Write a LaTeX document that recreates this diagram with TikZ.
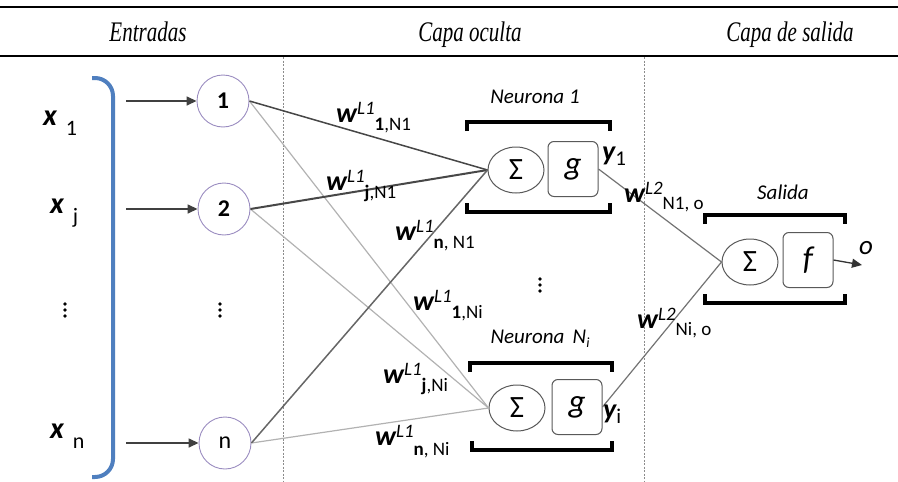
\documentclass[tikz,border=0pt]{standalone}
\usepackage{fontspec}
\setmainfont{Carlito}
\newfontfamily\timesfont{Liberation Serif}
\usetikzlibrary{arrows.meta,shapes.geometric}
\definecolor{circcol}{HTML}{9A8CC0}
\definecolor{brblue}{HTML}{4F7FBF}
\newcommand{\wlab}[3]{{\fontsize{28}{28}\selectfont\bfseries\itshape w}\raisebox{8pt}{\fontsize{19}{19}\selectfont\itshape #1}\raisebox{-#3}{\fontsize{19}{19}\selectfont #2}}
\newcommand{\xlab}[1]{{\fontsize{30}{30}\selectfont\bfseries\itshape x}\hspace{9pt}\raisebox{-10pt}{\fontsize{22}{22}\selectfont #1}}
\newcommand{\vdot}[2]{\fill (#1,#2-6) circle (1.9pt); \fill (#1,#2) circle (1.9pt); \fill (#1,#2+6) circle (1.9pt);}
\begin{document}
\begin{tikzpicture}[x=1pt,y=-1pt,
  inp/.style={circle, draw=circcol, line width=0.9pt, minimum size=52pt, inner sep=0pt, font=\fontsize{24}{24}\selectfont},
  sig/.style={ellipse, draw=black!65, line width=1pt, minimum width=56pt, minimum height=46pt, inner sep=0pt, font=\fontsize{31}{31}\selectfont},
  funbox/.style={rectangle, rounded corners=6pt, draw=black!65, line width=1pt, minimum width=50pt, minimum height=55pt, inner sep=0pt, font=\fontsize{33}{33}\selectfont\itshape},
  brk/.style={line width=4pt, black},
  darkw/.style={draw=black!72, line width=1.5pt},
  lightw/.style={draw=black!30, line width=1.2pt},
  midw/.style={draw=black!55, line width=1.2pt},
  inarrow/.style={draw=black!75, line width=1.5pt, -{Triangle[length=10pt,width=9pt]}},
  lab/.style={inner sep=0pt, anchor=base west},
  head/.style={inner sep=0pt, anchor=base, font=\fontsize{21}{21}\selectfont\timesfont\itshape},
  rule/.style={line width=2pt, black},
  sep/.style={draw=black!45, line width=0.6pt, dash pattern=on 2pt off 1.5pt},
  ttl/.style={inner sep=0pt, font=\fontsize{21}{21}\selectfont\itshape}
]
\useasboundingbox (0,0) rectangle (898,482);
% header rules and titles
\draw[rule] (0,7) -- (898,7);
\draw[rule] (0,56) -- (898,56);
\node[head] (h1) at (148,41) {\scalebox{1}[1.35]{Entradas}};
\node[head] (h2) at (470,41) {\scalebox{1}[1.35]{Capa oculta}};
\node[head] (h3) at (790,41) {\scalebox{1}[1.35]{Capa de salida}};
% separators
\draw[sep] (283,57) -- (283,482);
\draw[sep] (644,57) -- (644,482);
% input bracket
\draw[brblue, line width=4pt, rounded corners=18pt] (92,78) -- (113,78) -- (113,477) -- (92,477);
% input labels
\node[lab] (x1) at (43,125) {\xlab{1}};
\node[lab] (xj) at (50,213) {\xlab{j}};
\node[lab] (xn) at (50,438) {\xlab{n}};
\vdot{65}{310}
\vdot{220}{310}
\vdot{540}{285}
% input neurons
\node[inp, font=\fontsize{24}{24}\selectfont\bfseries] (i1) at (223,101) {1};
\node[inp, font=\fontsize{24}{24}\selectfont\bfseries] (i2) at (224,209) {2};
\node[inp] (in) at (225,443) {n};
\coordinate (a1) at (126,101);
\coordinate (a2) at (126,209);
\coordinate (an) at (126,443);
\draw[inarrow] (a1) -- (i1);
\draw[inarrow] (a2) -- (i2);
\draw[inarrow] (an) -- (in);
% hidden neurons
\node[sig] (s1) at (516,170) {Σ};
\node[funbox] (g1) at (573,169) {g};
\node[sig] (sN) at (517,408) {Σ};
\node[funbox] (gN) at (577,407) {g};
\draw[brk] (467,131) -- (467,122) -- (610,122) -- (610,131);
\draw[brk] (467,203) -- (467,212) -- (610,212) -- (610,203);
\draw[brk] (470,372) -- (470,363) -- (612,363) -- (612,372);
\draw[brk] (472,441) -- (472,450) -- (612,450) -- (612,441);
\node[ttl] (n1) at (535,97) {Neurona 1};
\node[ttl] (nN) at (540,339) {Neurona \,N\raisebox{-4pt}{\fontsize{14}{14}\selectfont i}};
% output neuron
\node[sig] (so) at (750,262) {Σ};
\node[funbox] (fo) at (808,260) {f};
\draw[brk] (705,224) -- (705,215) -- (845,215) -- (845,224);
\draw[brk] (705,294) -- (705,303) -- (845,303) -- (845,294);
\node[ttl] (sal) at (783,192) {Salida};
\coordinate (oend) at (862,265);
\draw[draw=black!80, line width=1.3pt, -{Triangle[length=10pt,width=9pt]}] (fo.east) -- (oend);
\node[inner sep=0pt, font=\fontsize{27}{27}\selectfont\itshape] (olab) at (866,248) {o};
% connections input -> hidden
\draw[lightw] (i1.east) -- (sN.west);
\draw[lightw] (i2.east) -- (sN.west);
\draw[lightw] (in.east) -- (sN.west);
\draw[darkw] (i1.east) -- (s1.west);
\draw[darkw, line width=2pt] (i2.east) -- (s1.west);
\draw[darkw, draw=black!60] (in.east) -- (s1.west);
% hidden -> output
\draw[midw] (g1.east) -- (so.west);
\draw[midw] (gN.east) -- (so.west);
% weight labels
\node[lab] (w1) at (336,122) {\wlab{L1}{\textbf{1},N1}{8pt}};
\node[lab] (w2) at (326,190) {\wlab{L1}{\textbf{j},N1}{8pt}};
\node[lab] (w3) at (395,240) {\wlab{L1}{\textbf{n}, N1}{8pt}};
\node[lab] (w4) at (413,310) {\wlab{L1}{\textbf{1},Ni}{8pt}};
\node[lab] (w5) at (383,383) {\wlab{L1}{\textbf{j},Ni}{8pt}};
\node[lab] (w6) at (375,445) {\wlab{L1}{\textbf{n}, Ni}{10pt}};
\node[lab] (w7) at (624,202) {\wlab{L2}{N1, o}{7pt}};
\node[lab] (w8) at (637,328) {\wlab{L2}{Ni, o}{7pt}};
% outputs of hidden neurons
\node[lab] (y1) at (602,160) {{\fontsize{28}{28}\selectfont\bfseries\itshape y}\raisebox{-5pt}{\fontsize{21}{21}\selectfont 1}};
\node[lab] (yi) at (603,418) {{\fontsize{28}{28}\selectfont\bfseries\itshape y}\raisebox{-5pt}{\fontsize{21}{21}\selectfont i}};
\end{tikzpicture}
\end{document}
